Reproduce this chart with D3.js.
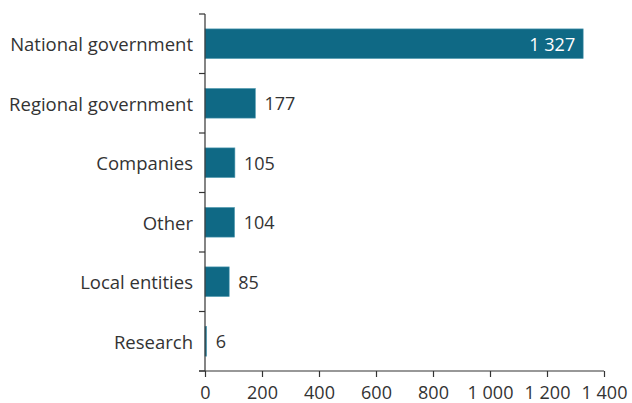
<!DOCTYPE html>
<html>
<head>
<meta charset="utf-8">
<script src="https://cdn.jsdelivr.net/npm/d3@7"></script>
<style>
  html, body { margin: 0; padding: 0; background: #fff; }
  svg text { font-family: "Open Sans", "Noto Sans", sans-serif; fill: #333; }
</style>
</head>
<body>
<svg id="chart" width="632" height="403"></svg>
<script>
// Number of entries by type of organisation
const categories = ["National government", "Regional government", "Companies", "Other", "Local entities", "Research"];
const values = [1327, 177, 105, 104, 85, 6];
const tickValues = [0, 200, 400, 600, 800, 1000, 1200, 1400];

const svg = d3.select("#chart");
const svgWidth = 632, svgHeight = 403;
const margin = { top: 14, right: 28, bottom: 32, left: 205 };
const width = svgWidth - margin.left - margin.right;
const height = svgHeight - margin.top - margin.bottom;

const g = svg.append("g").attr("transform", `translate(${margin.left},${margin.top})`);

const x = d3.scaleLinear().domain([0, 1400]).range([0, width]);
const y = d3.scaleBand().domain(categories).range([0, height]).paddingInner(0.5).paddingOuter(0.25);

// Thousands separated by a space
const fmt = v => d3.format(",")(v).replace(/,/g, " ");

// Bars
g.selectAll("rect.bar")
  .data(categories)
  .join("rect")
  .attr("class", "bar")
  .attr("x", 0)
  .attr("y", d => y(d))
  .attr("width", (d, i) => x(values[i]))
  .attr("height", y.bandwidth())
  .attr("fill", "#0f6985")
  .attr("stroke", "#5fa3b8")
  .attr("stroke-width", 0.6);

// Value labels: beside the bar, or inside its end when there is no room
g.selectAll("text.value")
  .data(categories)
  .join("text")
  .attr("class", "value")
  .attr("y", d => y(d) + y.bandwidth() / 2)
  .attr("dy", "0.4em")
  .style("font-size", "18px")
  .text((d, i) => fmt(values[i]))
  .each(function (d, i) {
    const t = d3.select(this);
    const end = x(values[i]);
    const w = this.getComputedTextLength();
    if (margin.left + end + 9 + w > svgWidth - 2) {
      t.attr("x", end - 8).attr("text-anchor", "end").style("fill", "#fff");
    } else {
      t.attr("x", end + 9);
    }
  });

// Category axis: boundary ticks between bands
const yAxis = g.append("g");
yAxis.append("line")
  .attr("x1", 0).attr("x2", 0)
  .attr("y1", 0).attr("y2", height)
  .attr("stroke", "#333").attr("stroke-width", 1.2);
const bounds = d3.range(categories.length + 1).map(i => i * height / categories.length);
yAxis.selectAll("line.tick")
  .data(bounds)
  .join("line")
  .attr("class", "tick")
  .attr("x1", -6).attr("x2", 0)
  .attr("y1", d => d).attr("y2", d => d)
  .attr("stroke", "#333").attr("stroke-width", 1.2);
yAxis.selectAll("text")
  .data(categories)
  .join("text")
  .attr("x", -12)
  .attr("y", d => y(d) + y.bandwidth() / 2)
  .attr("dy", "0.4em")
  .attr("text-anchor", "end")
  .style("font-size", "18.5px")
  .text(d => d);

// Value axis
const xAxis = g.append("g")
  .attr("transform", `translate(0,${height})`)
  .call(d3.axisBottom(x).tickValues(tickValues).tickSize(6).tickPadding(9).tickFormat(fmt).tickSizeOuter(0));
xAxis.select(".domain").attr("stroke", "#333").attr("stroke-width", 1.2)
  .attr("d", `M-6,0H${width}`);
xAxis.selectAll(".tick line").attr("stroke", "#333").attr("stroke-width", 1.2);
xAxis.selectAll(".tick text").style("font-size", "18px").attr("fill", "#333");
</script>
</body>
</html>
